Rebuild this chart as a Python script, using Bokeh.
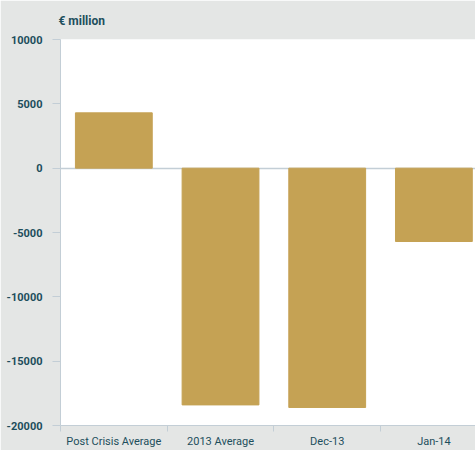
from bokeh.plotting import figure
from bokeh.models import FixedTicker, Range1d
from bokeh.embed import file_html
from bokeh.resources import INLINE

categories = ["Post Crisis Average", "2013 Average", "Dec-13", "Jan-14"]
values = [4300, -18400, -18600, -5700]
y_ticks = [-20000, -15000, -10000, -5000, 0, 5000, 10000]

BG = "#e4e6e5"
TXT = "#1d4e5c"
LINE = "#c3ced6"
FONT = "Roboto"

xs = [i + 0.5 for i in range(len(categories))]

p = figure(width=475, height=450, output_backend="svg", toolbar_location=None,
           x_range=Range1d(0, 3.89), y_range=Range1d(-20000, 10000),
           min_border_left=60, min_border_top=38, min_border_bottom=24, min_border_right=0)
p.background_fill_color = "white"
p.border_fill_color = BG
p.outline_line_color = None

p.vbar(x=xs, top=values, bottom=0, width=0.72, color="#c5a254")

p.title.text = "€ million"
p.title.align = "left"
p.title.text_font = FONT
p.title.text_font_size = "12px"
p.title.text_font_style = "bold"
p.title.text_color = TXT
p.title.offset = -2
p.title.standoff = 23

p.xgrid.visible = False
p.ygrid.ticker = FixedTicker(ticks=[0, 10000])
p.ygrid.grid_line_color = LINE
p.ygrid.grid_line_width = 1.5

xa = p.xaxis[0]
xa.ticker = FixedTicker(ticks=xs, minor_ticks=[0, 1, 2, 3])
xa.major_label_overrides = {x: c for x, c in zip(xs, categories)}
xa.major_tick_line_color = None
xa.major_tick_out = 0
xa.major_tick_in = 0
xa.minor_tick_out = 6
xa.minor_tick_in = 0
xa.minor_tick_line_color = LINE
xa.axis_line_color = LINE
xa.major_label_standoff = 3
xa.major_label_text_font = FONT
xa.major_label_text_font_size = "11px"
xa.major_label_text_font_style = "normal"
xa.major_label_text_color = TXT

ya = p.yaxis[0]
ya.ticker = FixedTicker(ticks=y_ticks)
ya.major_label_overrides = {t: str(t) for t in y_ticks}
ya.major_tick_out = 8
ya.major_tick_in = 0
ya.minor_tick_line_color = None
ya.major_tick_line_color = LINE
ya.axis_line_color = LINE
ya.major_label_standoff = 10
ya.major_label_text_font = FONT
ya.major_label_text_font_size = "11px"
ya.major_label_text_font_style = "bold"
ya.major_label_text_color = TXT

open("out.html", "w").write(file_html(p, INLINE))
